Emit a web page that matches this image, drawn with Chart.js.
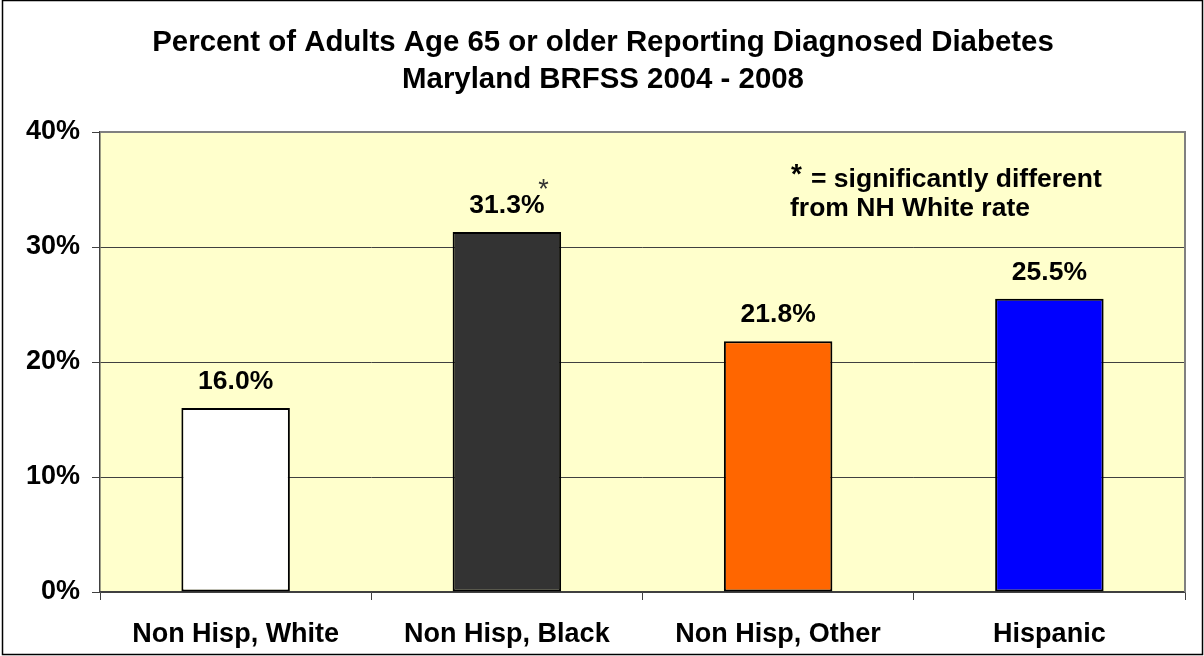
<!DOCTYPE html>
<html>
<head>
<meta charset="utf-8">
<script src="https://cdn.jsdelivr.net/npm/chart.js@4.4.1/dist/chart.umd.min.js"></script>
<style>
  html, body { margin: 0; padding: 0; background: #fff; }
  #wrap { width: 1204px; height: 656px; position: relative; }
</style>
</head>
<body>
<div id="wrap"><canvas id="chart" width="1204" height="656"></canvas></div>
<script>
/* ---------- data ---------- */
var CATEGORIES = ['Non Hisp, White', 'Non Hisp, Black', 'Non Hisp, Other', 'Hispanic'];
var VALUES     = [16.0, 31.3, 21.8, 25.5];
var SIGNIF     = [false, true, false, false];       // * = differs from NH White
var COLORS     = ['#ffffff', '#333333', '#ff6600', '#0000ff'];
var Y_TICKS    = [0, 10, 20, 30, 40];

var TITLE = ['Percent of Adults Age 65 or older Reporting Diagnosed Diabetes',
             'Maryland BRFSS 2004 - 2008'];
var NOTE  = ['= significantly different', 'from NH White rate'];

var FONT = 'Arial, "Liberation Sans", sans-serif';

/* ---------- plot background, frame, title, labels ---------- */
var decor = {
  id: 'decor',
  beforeDraw: function (chart) {
    var c = chart.ctx, a = chart.chartArea;
    c.save();
    c.fillStyle = '#fff';
    c.fillRect(0, 0, chart.width, chart.height);
    c.fillStyle = '#ffffcc';
    c.fillRect(a.left, a.top, a.right - a.left, a.bottom - a.top);
    c.restore();
  },
  afterDatasetsDraw: function (chart) {
    var c = chart.ctx, a = chart.chartArea;
    c.save();

    // plot-area frame (top / right in grey)
    c.strokeStyle = '#808080';
    c.lineWidth = 2;
    c.beginPath();
    c.moveTo(a.left, a.top); c.lineTo(a.right, a.top); c.lineTo(a.right, a.bottom);
    c.stroke();

    // outer chart border
    c.strokeStyle = '#000';
    c.lineWidth = 1.5;
    c.strokeRect(2.5, 0.5, chart.width - 4, chart.height - 2);

    // title
    c.fillStyle = '#000';
    c.textAlign = 'center';
    c.textBaseline = 'alphabetic';
    c.font = 'bold 29.4px ' + FONT;
    c.fillText(TITLE[0], 603, 51);
    c.fillText(TITLE[1], 603, 88);

    // value labels
    var meta = chart.getDatasetMeta(0);
    meta.data.forEach(function (bar, i) {
      var txt = VALUES[i].toFixed(1) + '%';
      c.textAlign = 'center';
      c.fillStyle = '#000';
      c.font = 'bold 26.5px ' + FONT;
      c.fillText(txt, bar.x, bar.y - 19);
      if (SIGNIF[i]) {
        var w = c.measureText(txt).width;
        c.textAlign = 'center';
        c.fillStyle = '#333';
        c.font = '27px ' + FONT;
        c.fillText('*', bar.x + w / 2 - 1, bar.y - 34);
      }
    });

    // significance note
    c.textAlign = 'left';
    c.fillStyle = '#000';
    c.font = 'bold 28px ' + FONT;
    c.fillText('*', 791, 183);
    c.font = 'bold 26.5px ' + FONT;
    c.fillText(NOTE[0], 811, 187);
    c.fillText(NOTE[1], 790, 216);

    c.restore();
  }
};

new Chart(document.getElementById('chart'), {
  type: 'bar',
  data: {
    labels: CATEGORIES,
    datasets: [{
      data: VALUES,
      backgroundColor: COLORS,
      borderColor: '#000',
      borderWidth: 2,
      borderSkipped: false,
      categoryPercentage: 1.0,
      barPercentage: 0.4
    }]
  },
  options: {
    responsive: false,
    animation: false,
    layout: { padding: { top: 132, right: 19, bottom: 0, left: 0 } },
    plugins: { legend: { display: false }, title: { display: false }, tooltip: { enabled: false } },
    scales: {
      x: {
        grid: { offset: true, drawOnChartArea: false, drawTicks: true, tickLength: 8, color: '#404040' },
        border: { color: '#404040', width: 1.5 },
        ticks: { color: '#000', font: { family: FONT, size: 27, weight: 'bold' }, padding: 18 },
        afterFit: function (s) { s.height = 64; }
      },
      y: {
        min: 0, max: 40,
        afterBuildTicks: function (s) { s.ticks = Y_TICKS.map(function (v) { return { value: v }; }); },
        grid: { color: '#404040', lineWidth: 1, tickLength: 8, drawTicks: true },
        border: { color: '#404040', width: 1.5 },
        ticks: {
          color: '#000', padding: 12,
          font: { family: FONT, size: 27, weight: 'bold' },
          callback: function (v) { return v + '%'; }
        },
        afterFit: function (s) { s.width = 100; }
      }
    }
  },
  plugins: [decor]
});
</script>
</body>
</html>
